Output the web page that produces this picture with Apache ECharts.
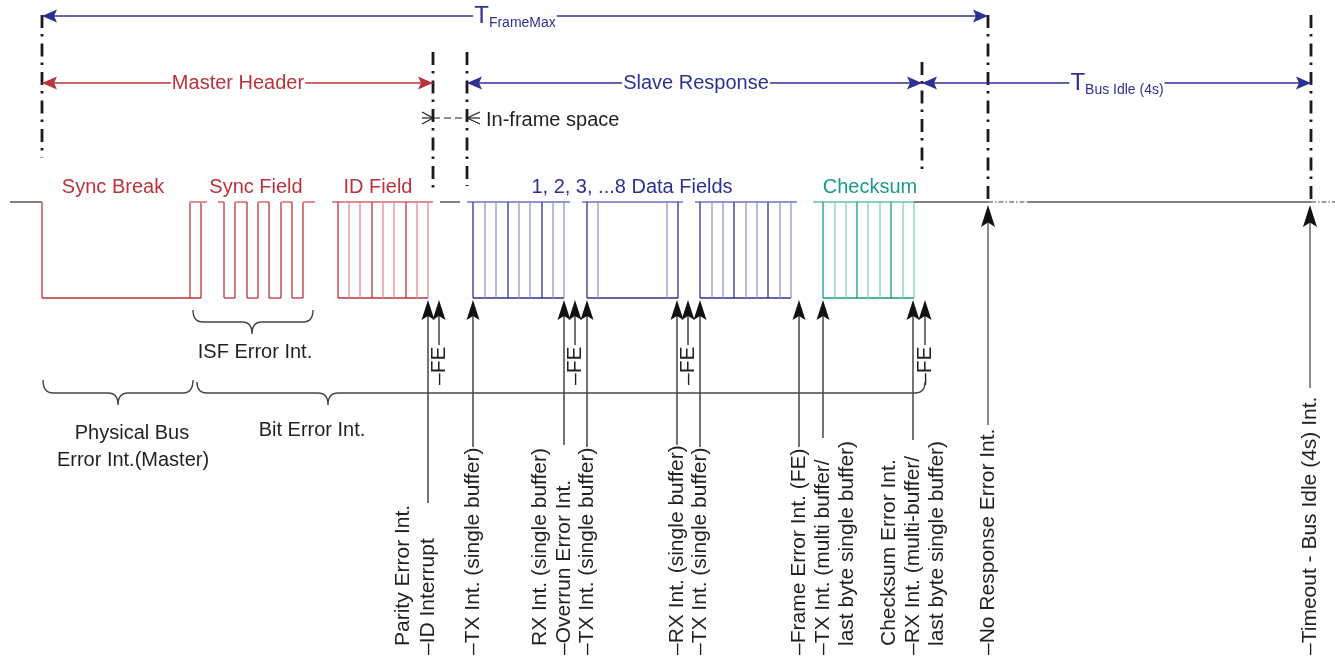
<!DOCTYPE html>
<html>
<head>
<meta charset="utf-8">
<script src="https://cdn.jsdelivr.net/npm/echarts@6/dist/echarts.min.js"></script>
<style>
html, body { margin: 0; padding: 0; background: #fff; }
#chart { width: 1335px; height: 656px; }
</style>
</head>
<body>
<div id="chart"></div>
<script>
// ---- data (x axis = time, y axis = diagram rows) ----
const busHigh = 202
const busLow = 298

const idleStart = 10
const syncBreakEdges = [42, 190, 201]
const syncBreakEnd = 207
const syncFieldStart = 218
const syncFieldEdges = [224, 235, 247, 258, 269, 281, 292, 303]
const syncFieldEnd = 315
const idFieldEdges = [338, 349, 360, 372, 383, 394, 406, 417, 428]
const idFieldSpan = [332, 433]
const headerGap = [440, 460]
const data1Edges = [473, 485, 496, 508, 519, 530, 542, 553, 564]
const data1Span = [467, 570]
const data2Edges = [587, 598, 667, 678]
const data2Span = [582, 683]
const data3Edges = [700, 712, 723, 734, 746, 757, 768, 780, 791]
const data3Span = [695, 797]
const checksumEdges = [823, 835, 846, 857, 868, 880, 891, 903, 914]
const checksumSpan = [813, 914]
const busIdleSpan = [914, 1335]
const busIdleDotted = [988, 1028, 1311, 1335]

const fieldNames = ['Sync Break', 'Sync Field', 'ID Field', '1, 2, 3, ...8 Data Fields', 'Checksum']
const fieldLabelX = [113, 256, 378, 632, 870]
const fieldLabelY = 187

const markerX = [42, 433, 467, 922, 988, 1311]
const markerTop = [15, 52, 52, 62, 15, 15]
const markerBottom = [158, 192, 186, 176, 205, 205]

const spanStart = [42, 42, 467, 922]
const spanEnd = [988, 433, 922, 1311]
const spanY = [16, 83, 83, 83]
const spanMain = ['T', 'Master Header', 'Slave Response', 'T']
const spanSub = ['FrameMax', '', '', 'Bus Idle (4s)']
const spanLabelX = [515, 238, 696, 1117]

const frameArrowX = [428, 439, 473, 564, 575, 587, 677, 688, 700, 799, 823, 913, 925]
const frameArrowEnd = [503, 345, 447, 445, 345, 447, 445, 345, 447, 447, 438, 440, 345]
const busArrowX = [988, 1310]
const busArrowEnd = [425, 388]

const feX = [439, 575, 688, 925]
const feBottom = 385

const braceStart = [43, 193, 197]
const braceEnd = [193, 313, 925]
const braceMid = [118, 252, 328]
const braceTop = [380, 310, 382]
const braceLine = [393, 322, 393]

const noteText = ['ISF Error Int.', 'Physical Bus', 'Error Int.(Master)', 'Bit Error Int.']
const noteX = [255, 132, 133, 312]
const noteY = [352, 433, 460, 430]

const intLabels = [
	'Parity Error Int.', '–ID Interrupt', '–TX Int. (single buffer)',
	'RX Int. (single buffer)', '–Overrun Error Int.', '–TX Int. (single buffer)',
	'–RX Int. (single buffer)', '–TX Int. (single buffer)',
	'–Frame Error Int. (FE)', '–TX Int. (multi buffer/', 'last byte single buffer)',
	'Checksum Error Int.', '–RX Int. (multi-buffer/', 'last byte single buffer)',
	'–No Response Error Int.', '–Timeout - Bus Idle (4s) Int.',
]
const intLabelX = [403, 428, 473, 540, 564, 587, 677, 700, 799, 823, 847, 889, 913, 937, 988, 1310]

// ---- styles ----
const FONT = '"Liberation Sans", Arial, Helvetica, sans-serif'
const INK = '#231f20'
const C = {
	red: '#b8333b', redLight: '#e08d92',
	blue: '#2e3192', blueLight: '#9395cc',
	teal: '#1a9a8b', tealLight: '#86d0c7',
	idle: '#808080', line: '#444', head: '#111',
}
const fieldColor = ['red', 'red', 'red', 'blue', 'teal']
const spanColor = ['blue', 'red', 'blue', 'blue']

// ---- waveform segments built from the edge arrays ----
const segs = []
segs.push([idleStart, busHigh, syncBreakEdges[0], busHigh, C.idle, 2])
segs.push([syncBreakEdges[0], busHigh, syncBreakEdges[0], busLow, C.red, 1.3])
segs.push([syncBreakEdges[0], busLow, syncBreakEdges[2], busLow, C.red, 1.3])
segs.push([syncBreakEdges[1], busLow, syncBreakEdges[1], busHigh, C.red, 1.3])
segs.push([syncBreakEdges[2], busLow, syncBreakEdges[2], busHigh, C.red, 1.3])
segs.push([syncBreakEdges[1], busHigh, syncBreakEnd, busHigh, C.redLight, 2])
let lvl = busHigh
let x0 = syncFieldStart
syncFieldEdges.forEach((x) => {
	segs.push([x0, lvl, x, lvl, lvl == busHigh ? C.redLight : C.red, lvl == busHigh ? 2 : 1.3])
	let nl = lvl == busHigh ? busLow : busHigh
	segs.push([x, lvl, x, nl, C.red, 1.3])
	lvl = nl
	x0 = x
})
segs.push([x0, lvl, syncFieldEnd, lvl, C.redLight, 2])

function cellField(edges, span, dark, light) {
	segs.push([span[0], busHigh, span[1], busHigh, light, 2])
	segs.push([edges[0], busLow, edges[edges.length - 1], busLow, dark, 1.3])
	edges.forEach((x, k) => {
		segs.push([x, busHigh, x, busLow, k % 3 == 0 ? dark : light, 1.3])
	})
}
cellField(idFieldEdges, idFieldSpan, C.red, C.redLight)
segs.push([headerGap[0], busHigh, headerGap[1], busHigh, C.idle, 2])
cellField(data1Edges, data1Span, C.blue, C.blueLight)
cellField(data2Edges, data2Span, C.blue, C.blueLight)
cellField(data3Edges, data3Span, C.blue, C.blueLight)
cellField(checksumEdges, checksumSpan, C.teal, C.tealLight)
segs.push([busIdleSpan[0], busHigh, busIdleDotted[0], busHigh, C.idle, 2])
segs.push([busIdleDotted[1], busHigh, busIdleDotted[2], busHigh, C.idle, 2])

function arrowHead(tx, ty, dx, dy, len, half, fill) {
	let bx = tx - dx * len, by = ty - dy * len
	let nx = -dy, ny = dx
	let nt = len * 0.8
	return {
		type: 'polygon',
		shape: { points: [[tx, ty], [bx + nx * half, by + ny * half], [tx - dx * nt, ty - dy * nt], [bx - nx * half, by - ny * half]] },
		style: { fill: fill },
	}
}

function vText(x, y, text, size) {
	return {
		type: 'text', x: x, y: y, rotation: Math.PI / 2,
		style: { text: text, fill: INK, font: size + 'px ' + FONT, align: 'left', verticalAlign: 'middle' },
	}
}

const base = { type: 'custom', coordinateSystem: 'cartesian2d', silent: true, animation: false, clip: false }

const option = {
	animation: false,
	grid: { left: 0, right: 0, top: 0, bottom: 0 },
	xAxis: { type: 'value', min: 0, max: 1335, show: false },
	yAxis: { type: 'value', min: 0, max: 656, inverse: true, show: false },
	series: [
		// waveform
		Object.assign({}, base, {
			data: segs.map((s) => [s[0], s[1], s[2], s[3]]),
			encode: { x: [0, 2], y: [1, 3] },
			renderItem(params, api) {
				let s = segs[params.dataIndex]
				let a = api.coord([s[0], s[1]])
				let b = api.coord([s[2], s[3]])
				return { type: 'line', shape: { x1: a[0], y1: a[1], x2: b[0], y2: b[1] }, style: { stroke: s[4], lineWidth: s[5] } }
			},
		}),
		// dotted idle tails
		Object.assign({}, base, {
			data: [[busIdleDotted[0], busIdleDotted[1]], [busIdleDotted[2], busIdleDotted[3]]],
			renderItem(params, api) {
				let a = api.coord([api.value(0), busHigh])
				let b = api.coord([api.value(1), busHigh])
				return { type: 'line', shape: { x1: a[0], y1: a[1], x2: b[0], y2: b[1] }, style: { stroke: C.idle, lineWidth: 1.6, lineDash: [5, 2, 1.5, 2] } }
			},
		}),
		// field labels
		Object.assign({}, base, {
			data: fieldLabelX.map((x) => [x, fieldLabelY]),
			renderItem(params, api) {
				let p = api.coord([api.value(0), api.value(1)])
				let i = params.dataIndex
				return { type: 'text', x: p[0], y: p[1], style: { text: fieldNames[i], fill: C[fieldColor[i]], font: '20px ' + FONT, align: 'center', verticalAlign: 'middle' } }
			},
		}),
		// dash-dot boundary markers
		Object.assign({}, base, {
			data: markerX.map((x, i) => [x, markerTop[i], markerBottom[i]]),
			renderItem(params, api) {
				let a = api.coord([api.value(0), api.value(1)])
				let b = api.coord([api.value(0), api.value(2)])
				return { type: 'line', shape: { x1: a[0], y1: a[1], x2: b[0], y2: b[1] }, style: { stroke: '#1a1a1a', lineWidth: 2.8, lineDash: [13, 6, 2.5, 7] } }
			},
		}),
		// dimension arrows
		Object.assign({}, base, {
			data: spanStart.map((x, i) => [x, spanY[i], spanEnd[i]]),
			renderItem(params, api) {
				let i = params.dataIndex
				let a = api.coord([api.value(0), api.value(1)])
				let b = api.coord([api.value(2), api.value(1)])
				let c = api.coord([spanLabelX[i], api.value(1)])
				let col = C[spanColor[i]]
				let text = spanSub[i] ? '{t|' + spanMain[i] + '}{s|' + spanSub[i] + '}' : spanMain[i]
				return {
					type: 'group',
					children: [
						{ type: 'line', shape: { x1: a[0], y1: a[1], x2: b[0], y2: b[1] }, style: { stroke: col, lineWidth: 1.5 } },
						arrowHead(a[0], a[1], -1, 0, 15, 6.5, col),
						arrowHead(b[0], b[1], 1, 0, 15, 6.5, col),
						{
							type: 'text', x: c[0], y: c[1],
							style: {
								text: text, fill: col, font: '20px ' + FONT, align: 'center', verticalAlign: 'middle',
								backgroundColor: '#fff', padding: [0, 1],
								rich: {
									t: { fontSize: 24, fontFamily: FONT, fill: col, lineHeight: 24 },
									s: { fontSize: 14, fontFamily: FONT, fill: col, lineHeight: 14, verticalAlign: 'bottom', padding: [0, 0, -2, 0] },
								},
							},
						},
					],
				}
			},
		}),
		// in-frame space
		Object.assign({}, base, {
			data: [[markerX[1], markerX[2], 118]],
			renderItem(params, api) {
				let a = api.coord([api.value(0), api.value(2)])
				let b = api.coord([api.value(1), api.value(2)])
				let st = { stroke: INK, lineWidth: 1.2, fill: 'none' }
				return {
					type: 'group',
					children: [
						{ type: 'line', shape: { x1: a[0] - 11, y1: a[1], x2: a[0], y2: a[1] }, style: st },
						{ type: 'polyline', shape: { points: [[a[0] - 11, a[1] - 6], [a[0], a[1]], [a[0] - 11, a[1] + 6]] }, style: st },
						{ type: 'line', shape: { x1: a[0], y1: a[1], x2: b[0], y2: b[1] }, style: { stroke: INK, lineWidth: 1.2, lineDash: [7, 4] } },
						{ type: 'line', shape: { x1: b[0], y1: b[1], x2: b[0] + 13, y2: b[1] }, style: st },
						{ type: 'polyline', shape: { points: [[b[0] + 13, b[1] - 6], [b[0], b[1]], [b[0] + 13, b[1] + 6]] }, style: st },
						{ type: 'text', x: b[0] + 19, y: b[1] + 2, style: { text: 'In-frame space', fill: INK, font: '20px ' + FONT, align: 'left', verticalAlign: 'middle' } },
					],
				}
			},
		}),
		// interrupt arrows from the frame bits
		Object.assign({}, base, {
			data: frameArrowX.map((x, i) => [x, busLow + 2, frameArrowEnd[i]]),
			renderItem(params, api) {
				let a = api.coord([api.value(0), api.value(1)])
				let b = api.coord([api.value(0), api.value(2)])
				return {
					type: 'group',
					children: [
						{ type: 'line', shape: { x1: a[0], y1: a[1] + 12, x2: b[0], y2: b[1] }, style: { stroke: C.line, lineWidth: 1.5 } },
						arrowHead(a[0], a[1], 0, -1, 20, 6.5, C.head),
					],
				}
			},
		}),
		// bus idle / no response arrows
		Object.assign({}, base, {
			data: busArrowX.map((x, i) => [x, busHigh + 3, busArrowEnd[i]]),
			renderItem(params, api) {
				let a = api.coord([api.value(0), api.value(1)])
				let b = api.coord([api.value(0), api.value(2)])
				return {
					type: 'group',
					children: [
						{ type: 'line', shape: { x1: a[0], y1: a[1] + 12, x2: b[0], y2: b[1] }, style: { stroke: '#8a8a8a', lineWidth: 2 } },
						arrowHead(a[0], a[1], 0, -1, 22, 7, C.head),
					],
				}
			},
		}),
		// FE tags
		Object.assign({}, base, {
			data: feX.map((x) => [x, feBottom]),
			renderItem(params, api) {
				let p = api.coord([api.value(0), api.value(1)])
				return vText(p[0], p[1], '–FE', 21)
			},
		}),
		// braces
		Object.assign({}, base, {
			data: braceStart.map((x, i) => [x, braceTop[i], braceEnd[i], braceLine[i], braceMid[i]]),
			renderItem(params, api) {
				let s = api.coord([api.value(0), api.value(1)])
				let e = api.coord([api.value(2), api.value(1)])
				let l = api.coord([api.value(4), api.value(3)])
				let y = l[1], m = l[0], r = 10, tip = 12
				let d = 'M' + s[0] + ' ' + s[1] + ' Q' + s[0] + ' ' + y + ' ' + (s[0] + r) + ' ' + y +
					' L' + (m - r) + ' ' + y + ' Q' + m + ' ' + y + ' ' + m + ' ' + (y + tip) +
					' Q' + m + ' ' + y + ' ' + (m + r) + ' ' + y +
					' L' + (e[0] - r) + ' ' + y + ' Q' + e[0] + ' ' + y + ' ' + e[0] + ' ' + e[1]
				return { type: 'path', shape: { pathData: d }, style: { stroke: C.line, lineWidth: 1.4, fill: 'none' } }
			},
		}),
		// brace notes
		Object.assign({}, base, {
			data: noteX.map((x, i) => [x, noteY[i]]),
			renderItem(params, api) {
				let p = api.coord([api.value(0), api.value(1)])
				return { type: 'text', x: p[0], y: p[1], style: { text: noteText[params.dataIndex], fill: INK, font: '20px ' + FONT, align: 'center', verticalAlign: 'middle' } }
			},
		}),
		// interrupt labels (rotated)
		Object.assign({}, base, {
			data: intLabelX.map((x) => [x, 655]),
			renderItem(params, api) {
				let t = intLabels[params.dataIndex]
				let p = api.coord([api.value(0), t.charAt(0) == '–' ? api.value(1) : api.value(1) - 9])
				return vText(p[0], p[1], t, 21)
			},
		}),
	],
}

const chart = echarts.init(document.getElementById('chart'))
chart.setOption(option)
window.addEventListener('resize', chart.resize)
</script>
</body>
</html>
